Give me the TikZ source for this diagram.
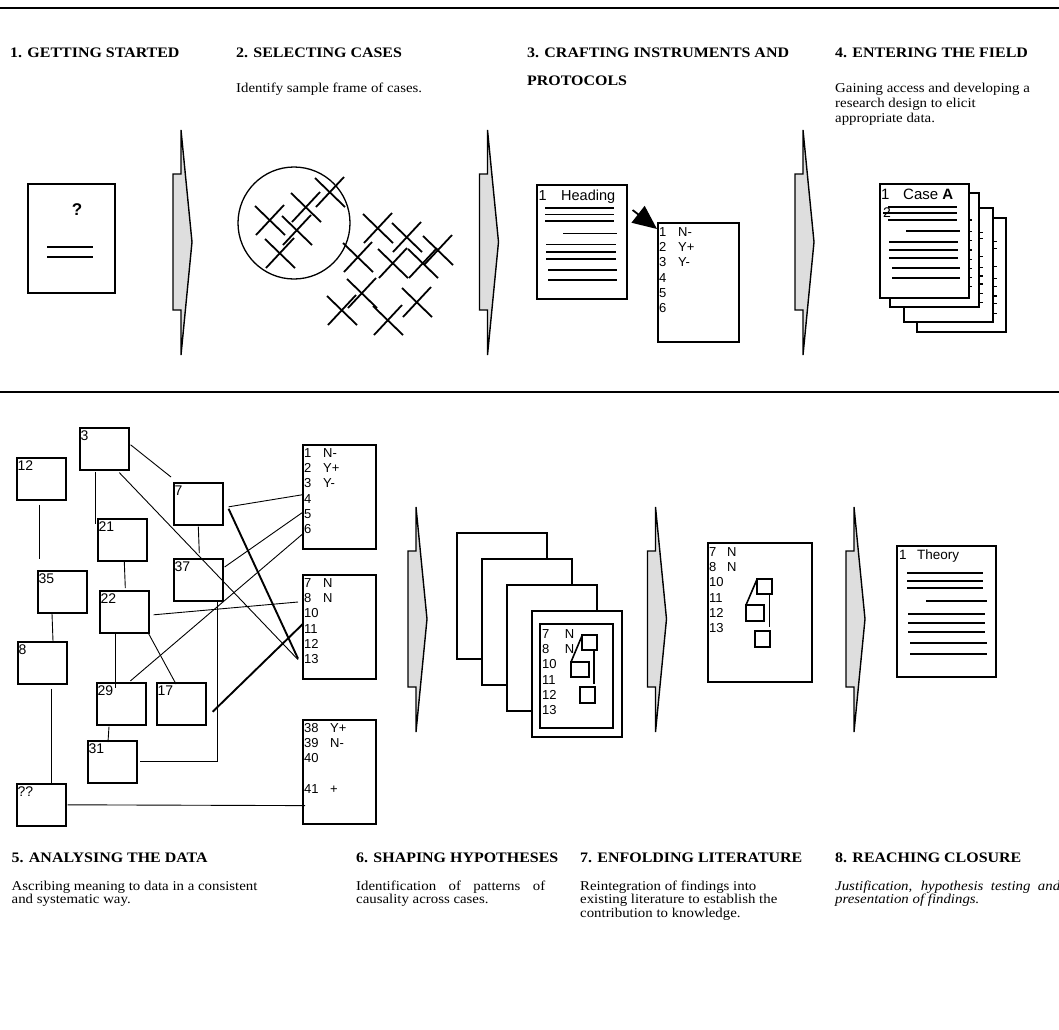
\documentclass[tikz,border=0pt]{standalone}
\usepackage{fontspec}
\setmainfont{Liberation Serif}[FakeStretch=1.1]
\newfontfamily\arialfont{Liberation Sans}
\usetikzlibrary{arrows.meta,calc}

\newcommand{\hdfont}{\fontsize{14.5}{14.5}\selectfont\bfseries}
\newcommand{\txfont}{\fontsize{13.5}{15}\selectfont}
\newcommand{\lstfont}{\arialfont\fontsize{13}{15.3}\selectfont}
\newcommand{\rw}[3][19pt]{\makebox[#1][l]{#2}#3}
% grey step arrow: #1 = x of top point, #2 = y of top point
\newcommand{\stepchev}[2]{\draw[chev] (#1,#2) -- ++(11,112) -- ++(-11,113) -- ++(0,-45) -- ++(-8,0) -- ++(0,-136) -- ++(8,0) -- cycle;}

\begin{document}
\begin{tikzpicture}[x=1pt,y=1pt,yscale=-1,
	netbox/.style={draw, line width=1.6, minimum width=49, minimum height=42, inner sep=0, anchor=north west},
	boxlbl/.style={anchor=north west, inner xsep=1.5, inner ysep=3.5, font=\arialfont\fontsize{14}{14}\selectfont},
	listbox/.style={draw, line width=1.6, minimum width=73, minimum height=104, inner sep=0, anchor=north west},
	listtxt/.style={anchor=north west, inner sep=0, align=left, font=\lstfont},
	docbox/.style={draw, line width=1.6, fill=white, inner sep=0, anchor=north west},
	page/.style={draw, line width=1.6, fill=white},
	wire/.style={line width=0.9},
	heavy/.style={line width=1.9},
	txtline/.style={line width=1.8},
	xline/.style={line width=1.8},
	chev/.style={draw, line width=1.4, fill=black!13, line join=miter},
	hd/.style={anchor=base west, inner sep=0, font=\hdfont},
	tx/.style={anchor=base west, inner sep=0, font=\txfont},
	]
	\useasboundingbox (0,0) rectangle (1059,1029);
	
	\draw[line width=1.5] (0,8) -- (1059,8);
	\draw[line width=1.5] (0,392) -- (1059,392);
	
	%top row texts
	\node[hd] (h1) at (10,57) {1. GETTING STARTED};
	\node[hd] (h2) at (236,57) {2. SELECTING CASES};
	\node[hd] (h3) at (527,57) {3. CRAFTING INSTRUMENTS AND};
	\node[hd] (h3b) at (527,85) {PROTOCOLS};
	\node[hd] (h4) at (835,57) {4. ENTERING THE FIELD};
	\node[tx] (t2) at (236,92) {Identify sample frame of cases.};
	\node[tx] (t4a) at (835,92) {Gaining access and developing a};
	\node[tx] (t4b) at (835,107) {research design to elicit};
	\node[tx] (t4c) at (835,122) {appropriate data.};
	
	%step arrows
	\stepchev{181}{130}
	\stepchev{487.5}{130}
	\stepchev{803}{130}
	\stepchev{416}{507}
	\stepchev{655.5}{507}
	\stepchev{854}{507}
	
	%1 getting started
	\node[docbox, minimum width=87, minimum height=109] (qdoc) at (27,183) {};
	\node[font=\arialfont\bfseries\fontsize{17}{17}\selectfont, inner sep=0] (qmark) at (77,210) {?};
	\draw[line width=1.3] (47,247) -- (93,247);
	\draw[line width=1.3] (47,257) -- (93,257);
	
	%2 selecting cases
	\draw[line width=1.3] (294,223) circle [radius=56];
	\foreach \cx/\cy in {270/220, 306/207, 330/192, 297/230, 280/253, 378/228, 407/237, 358/257, 393/263, 423/263, 438/250, 362/293, 342/310, 388/320, 417/302}
	{
		\draw[xline] (\cx-15,\cy-14) -- (\cx+15,\cy+15);
		\draw[xline] (\cx-14,\cy+15) -- (\cx+14,\cy-15);
	}
	
	%3 instruments
	\node[docbox, minimum width=90, minimum height=114] (hdoc) at (536,184) {};
	\node[anchor=base west, inner sep=0, font=\arialfont\fontsize{14.5}{14.5}\selectfont] (hdtitle) at (538.5,200) {\rw[22.5pt]{1}{Heading}};
	\foreach \y/\a/\b in {208/545/614, 214.5/545/614, 221/545/614, 233.5/563/617, 244.5/546/616, 251.7/546/616, 259/546/616, 269.7/548/617, 279.7/548/617}
	\draw[txtline] (\a,\y) -- (\b,\y);
	\node[listbox, minimum width=81, minimum height=119] (items) at (657,222) {};
	\node[listtxt] (itemstx) at (659,227) {\rw{1}{N-}\\\rw{2}{Y+}\\\rw{3}{Y-}\\4\\5\\6};
	\draw[line width=1.8, -{Triangle[length=24pt,width=21pt]}] ($(hdoc.north east)+(5,26)$) -- ($(items.north west)+(0,7)$);
	
	%4 entering the field
	\foreach \x/\y in {917/218, 904/208, 890/193}
	\draw[page] (\x,\y) rectangle ++(89,114);
	\foreach \y in {220, 231.7, 240.7, 250, 259.3, 268.3, 277.3, 286.7}
	\draw[line width=1.3] (968,\y) -- (972,\y);
	\foreach \y in {232.7, 238.3, 256.7, 267.3, 276, 284, 293.3, 302.7}
	\draw[line width=1.3] (979,\y) -- (983,\y);
	\foreach \y in {241.7, 248.3, 266.7, 278.3, 286.7, 296, 303.3, 313.3}
	\draw[line width=1.3] (993,\y) -- (997,\y);
	\node[docbox, minimum width=89, minimum height=114] (casedoc) at (879,183) {};
	\node[anchor=base west, inner sep=0, font=\arialfont\fontsize{15}{15}\selectfont] (casetitle) at (881,199) {\rw[22pt]{1}{Case \textbf{A}}};
	\node[anchor=base west, inner sep=0, font=\arialfont\fontsize{14}{14}\selectfont] (casetwo) at (883,217) {2};
	\foreach \y/\a/\b in {207.3/888/957, 213.3/883/957, 220/888/957, 231/906/960, 242.3/889/958, 250/889/958, 258.3/889/958, 268.3/892/960, 277.7/892/960}
	\draw[txtline] (\a,\y) -- (\b,\y);
	
	%5 analysing the data
	\node[netbox, label={[boxlbl]north west:3}] (n3) at (79,427) {};
	\node[netbox, label={[boxlbl]north west:12}] (n12) at (16,457) {};
	\node[netbox, label={[boxlbl]north west:7}] (n7) at (173,482) {};
	\node[netbox, label={[boxlbl]north west:21}] (n21) at (97,518) {};
	\node[netbox, label={[boxlbl]north west:37}] (n37) at (173,558) {};
	\node[netbox, label={[boxlbl]north west:35}] (n35) at (37,570) {};
	\node[netbox, label={[boxlbl]north west:22}] (n22) at (99,590) {};
	\node[netbox, label={[boxlbl]north west:8}] (n8) at (17,641) {};
	\node[netbox, label={[boxlbl]north west:29}] (n29) at (96,682) {};
	\node[netbox, label={[boxlbl]north west:17}] (n17) at (156,682) {};
	\node[netbox, label={[boxlbl]north west:31}] (n31) at (87,740) {};
	\node[netbox, label={[boxlbl]north west:??}] (nq) at (16,783) {};
	
	\node[listbox] (listA) at (302,444) {};
	\node[listtxt] (listAtx) at (304,448) {\rw{1}{N-}\\\rw{2}{Y+}\\\rw{3}{Y-}\\4\\5\\6};
	\node[listbox] (listB) at (302,574) {};
	\node[listtxt] (listBtx) at (304,578) {\rw{7}{N}\\\rw{8}{N}\\10\\11\\12\\13};
	\node[listbox] (listC) at (302,719) {};
	\node[listtxt] (listCtx) at (304,723) {\rw[26pt]{38}{Y+}\\\rw[26pt]{39}{N-}\\40\\\mbox{}\\\rw[26pt]{41}{+}};
	
	\draw[wire] ($(n3.east)+(1,-4)$) -- ($(n7.north west)+(-2,-5)$);
	\draw[wire] ($(n3.south west)+(16,1)$) -- ($(n21.north west)+(-2,6)$);
	\draw[wire] ($(n3.south)+(15,2)$) -- ($(listB.south west)+(-4,-20)$);
	\draw[wire] ($(n7.south)+(0,1)$) -- ($(n37.north)+(1,-5)$);
	\draw[wire] ($(n7.east)+(5,3)$) -- ($(listA.west)+(0,-2)$);
	\draw[heavy] ($(n7.east)+(5,5)$) -- ($(listB.south west)+(-4,-21)$);
	\draw[wire] ($(n37.north east)+(1,9)$) -- ($(listA.west)+(0,16)$);
	\draw[wire] ($(n29.north)+(9,-1)$) -- ($(listA.west)+(2,36)$);
	\draw[wire] ($(n22.east)+(4,3)$) -- ($(listB.north west)+(-4,28)$);
	\draw[heavy] ($(n17.east)+(6,8)$) -- ($(listB.west)+(1,-3)$);
	\draw[wire] ($(n37.south east)+(-6,0)$) |- ($(n31.east)+(2,0)$);
	\draw[wire] ($(n21.south)+(2,0)$) -- ($(n22.north)+(1,-2)$);
	\draw[wire] ($(n22.south west)+(16,0)$) -- ($(n29.north west)+(19,6)$);
	\draw[wire] ($(n22.south east)+(-1,0)$) -- ($(n17.north west)+(20,2)$);
	\draw[wire] ($(n29.south west)+(13,1)$) -- ($(n31.north west)+(21,2)$);
	\draw[wire] ($(n12.south west)+(23,4)$) -- ($(n35.north west)+(2,-11)$);
	\draw[wire] ($(n35.south west)+(15,0)$) -- ($(n8.north west)+(36,0)$);
	\draw[wire] ($(n8.south west)+(34,4)$) -- ($(nq.north west)+(35,0)$);
	\draw[wire] ($(nq.east)+(1,0)$) -- ($(listC.south west)+(3,-19)$);
	
	%6 shaping hypotheses
	\foreach \x/\y in {457/533, 482/559, 507/585, 532/611}
	\draw[page] (\x,\y) rectangle ++(90,126);
	\draw[line width=1.6] (540,624) rectangle (613,728);
	\node[listtxt] (hyptx) at (542,629) {\rw[22.7pt]{7}{N}\\\rw[22.7pt]{8}{N}\\10\\11\\12\\13};
	\draw[line width=1.6] (582,635) rectangle (597,650);
	\draw[line width=1.6] (571,662) rectangle (589,677);
	\draw[line width=1.6] (580,687) rectangle (595,703);
	\draw[line width=1.6] (582,635.7) -- (571,662);
	\draw[line width=1.6] (594,650) -- (594,684);
	
	%7 enfolding literature
	\node[docbox, minimum width=104, minimum height=139] (litdoc) at (707,542) {};
	\node[listtxt] (littx) at (709,547) {\rw[18pt]{7}{N}\\\rw[18pt]{8}{N}\\10\\11\\12\\13};
	\draw[line width=1.6] (757,579) rectangle (772,594);
	\draw[line width=1.6] (746,605) rectangle (764,621);
	\draw[line width=1.6] (755,631) rectangle (770,647);
	\draw[line width=1.6] (757,579.3) -- (746,605);
	\draw[line width=1.6] (769.3,594) -- (769.3,627.3);
	
	%8 reaching closure
	\node[docbox, minimum width=99, minimum height=131] (thdoc) at (896,545) {};
	\node[anchor=base west, inner sep=0, font=\arialfont\fontsize{13.5}{13.5}\selectfont] (thtitle) at (899,559.5) {\rw[18pt]{1}{Theory}};
	\foreach \y/\a/\b in {573.3/907/983, 580.7/907/983, 587.7/907/983, 601/926/987, 614/908/985, 623.3/908/985, 632.3/908/985, 643.3/910/987, 654.3/910/987}
	\draw[txtline] (\a,\y) -- (\b,\y);
	
	%bottom row texts
	\node[hd] (h5) at (11.5,862) {5. ANALYSING THE DATA};
	\node[hd] (h6) at (356,862) {6. SHAPING HYPOTHESES};
	\node[hd] (h7) at (580,862) {7. ENFOLDING LITERATURE};
	\node[hd] (h8) at (835,862) {8. REACHING CLOSURE};
	\node[tx] (t5a) at (11.5,890) {Ascribing meaning to data in a consistent};
	\node[tx] (t5b) at (11.5,903.5) {and systematic way.};
	\node[tx] (t6a) at (356,890) {\makebox[189pt][s]{Identification of patterns of}};
	\node[tx] (t6b) at (356,903.5) {causality across cases.};
	\node[tx] (t7a) at (580,890) {Reintegration of findings into};
	\node[tx] (t7b) at (580,903.5) {existing literature to establish the};
	\node[tx] (t7c) at (580,917) {contribution to knowledge.};
	\node[tx, font=\txfont\itshape] (t8a) at (835,890) {\makebox[225pt][s]{Justification, hypothesis testing and}};
	\node[tx, font=\txfont\itshape] (t8b) at (835,903.5) {presentation of findings.};
	
\end{tikzpicture}
\end{document}
